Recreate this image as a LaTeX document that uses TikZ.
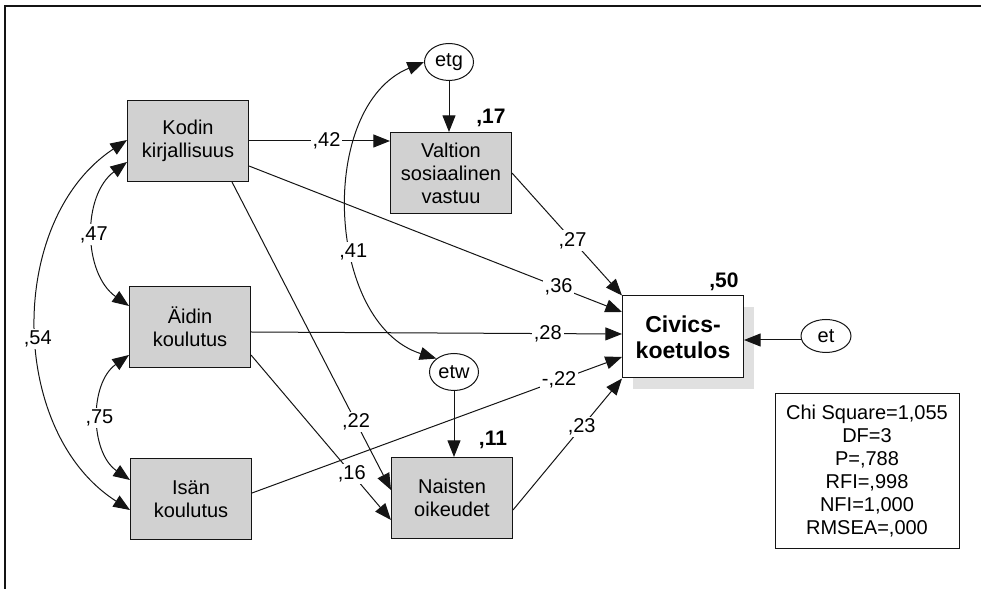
\documentclass[tikz,border=0pt]{standalone}
\usepackage{fontspec}
\setmainfont{Liberation Sans}
\usetikzlibrary{arrows.meta, positioning, shapes.geometric, calc, shadows}
\definecolor{cbox}{gray}{0.82}
\definecolor{cshadow}{gray}{0.88}
\definecolor{cline}{gray}{0.08}
\tikzset{
  every picture/.style={font=\fontsize{10}{11.5}\selectfont, line width=0.5pt},
  var/.style={draw=cline, fill=cbox, align=center, minimum width=60.5pt, minimum height=40.5pt, inner sep=2pt},
  err/.style={draw=cline, ellipse, fill=white, inner sep=0pt, minimum width=24.5pt, minimum height=18.5pt},
  effect/.style={-{Triangle[length=8.3pt, width=6.5pt]}, draw=cline},
  cov/.style={{Triangle[length=8.3pt, width=6.5pt]}-{Triangle[length=8.3pt, width=6.5pt]}, draw=cline},
  coef/.style={fill=white, inner sep=1pt},
  rsq/.style={font=\fontsize{10.5}{12}\selectfont\bfseries},
}

\begin{document}
\begin{tikzpicture}[x=0.5pt, y=0.5pt]
  \useasboundingbox (0,0) rectangle (981,589);
  % ---------- frame (top and left edge) ----------
  \draw[cline, line width=1pt] (5,0) -- (5,583) -- (981,583);

  % ---------- background variables ----------
  \node[var] (kodin) at (188,448) {Kodin\\kirjallisuus};
  \node[var] (aidin) at (190,262) {Äidin\\koulutus};
  \node[var] (isan)  at (191,90)  {Isän\\koulutus};

  % ---------- attitudes and their residuals ----------
  \node[var] (valtion) at (451,416) {Valtion\\sosiaalinen\\vastuu};
  \node[var] (naiset)  at (452,91)  {Naisten\\oikeudet};
  \node[err] (etg) at (449,527) {etg};
  \node[err] (etw) at (454,217) {etw};

  % ---------- outcome ----------
  \node[var, fill=white, minimum height=41pt, font=\fontsize{11.5}{13}\selectfont\bfseries,
        drop shadow={shadow xshift=5pt, shadow yshift=-5.5pt, fill=cshadow, opacity=1}]
        (civics) at (683,252) {Civics-\\koetulos};
  \node[err, minimum width=25pt, minimum height=16.5pt] (et) at (826,253) {et};
  \coordinate (etout) at ($(et.west)+(0,-4)$);

  % squared multiple correlations
  \node[rsq] (r2valtion) at ([shift={(-21,14)}]valtion.north east) {,17};
  \node[rsq] (r2naiset)  at ([shift={(-20,17)}]naiset.north east)  {,11};
  \node[rsq] (r2civics)  at ([shift={(-20,14)}]civics.north east)  {,50};

  % fit indices
  \node[draw=cline, align=center, minimum width=92pt, minimum height=77.5pt] (fit) at (867,118)
    {Chi Square=1,055\\DF=3\\P=,788\\RFI=,998\\NFI=1,000\\RMSEA=,000};

  % ---------- direct effects ----------
  \draw[effect] (kodin.east) -- node[coef, pos=0.55] {,42} (kodin.east -| valtion.west);
  \draw[effect] (etg.south) -- (etg.south |- valtion.north);
  \draw[effect] (valtion.east) -- node[coef, pos=0.55] {,27} (civics.north west);
  \draw[effect] ($(kodin.south east)+(0,16)$) -- node[coef, pos=0.83] {,36} ($(civics.west)+(0,25)$);
  \draw[effect] ($(kodin.south)+(44,0)$) -- node[coef, pos=0.78] {,22} ($(naiset.west)+(0,8)$);
  \draw[effect] ($(aidin.east)+(0,-5)$) -- node[coef, pos=0.8] {,28} ($(civics.west)+(0,3)$);
  \draw[effect] ($(aidin.south east)+(0,13)$) -- node[coef, pos=0.72] {,16} ($(naiset.west)+(0,-22)$);
  \draw[effect] ($(isan.east)+(0,6)$) -- node[coef, pos=0.83] {-,22} ($(civics.west)+(0,-20)$);
  \draw[effect] ($(naiset.east)+(0,-12)$) -- node[coef, pos=0.63] {,23} (civics.south west);
  \draw[effect] (etw.south) -- (etw.south |- naiset.north);
  \draw[effect] (etout) -- (etout -| civics.east);

  % ---------- correlations ----------
  \draw[cov] ($(kodin.west)+(0,-21)$) to[bend right=54] node[coef] {,47} ($(aidin.west)+(0,21)$);
  \draw[cov] ($(kodin.west)+(0,1)$) to[bend right=57] node[coef, pos=0.53] {,54} ($(isan.west)+(0,-11)$);
  \draw[cov] ($(aidin.west)+(0,-28)$) to[bend right=55] node[coef] {,75} ($(isan.west)+(0,19)$);
  \draw[cov] (etg.west) to[bend right=70] node[coef, pos=0.6] {,41} (etw.north west);
\end{tikzpicture}
\end{document}
